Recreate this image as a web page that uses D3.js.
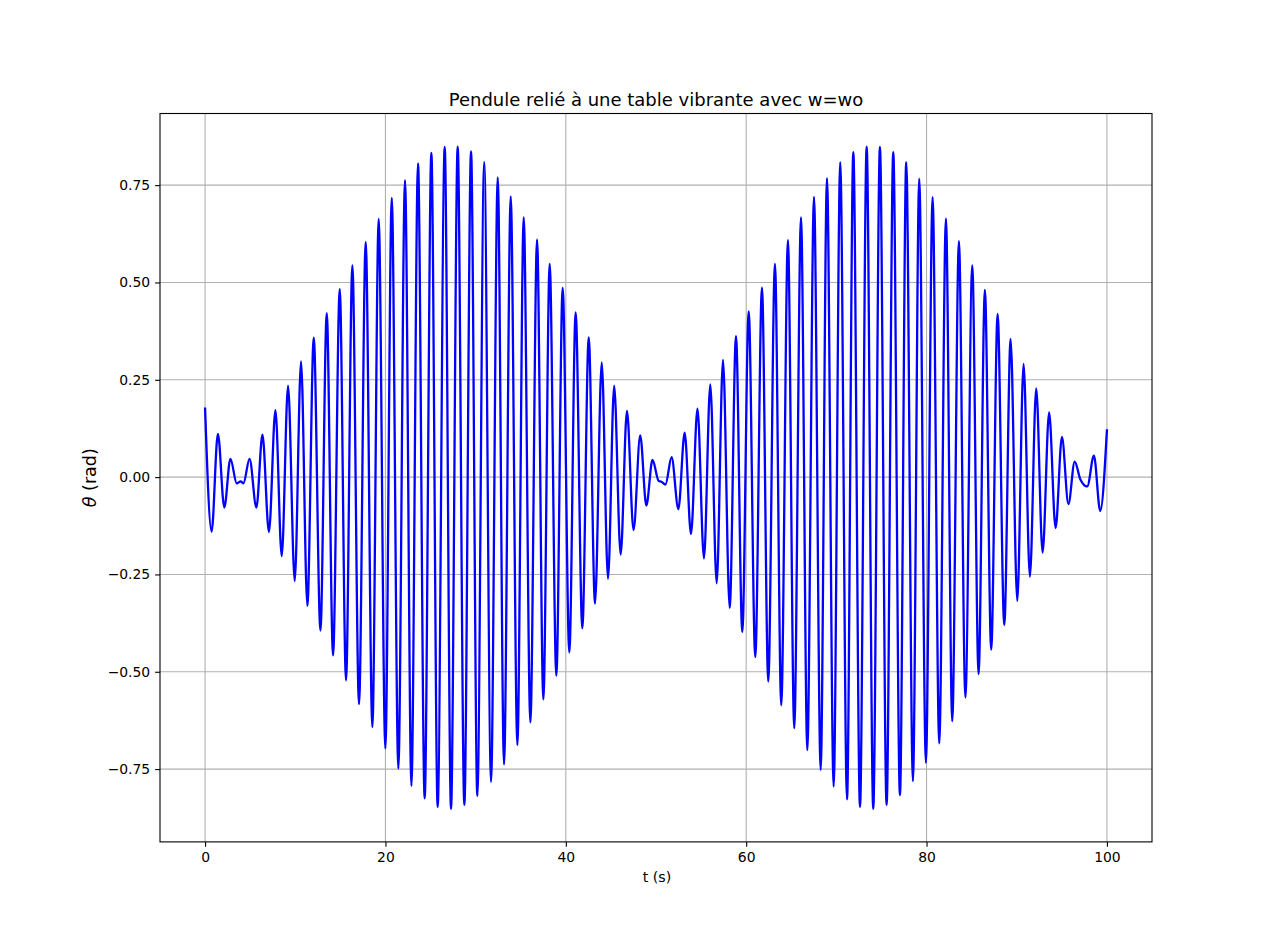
<!DOCTYPE html>
<html><head><meta charset="utf-8">
<script src="https://cdn.jsdelivr.net/npm/d3@7"></script>
<style>
body{margin:0;background:#fff}
text{font-family:"DejaVu Sans","Liberation Sans",sans-serif;fill:#000}
</style>
</head><body>
<svg id="chart" width="1280" height="946"></svg>
<script>
// Time of each extremum / key point of the curve (s)
const times = [
  0.00, 0.72, 1.42, 2.13, 2.81, 3.51, 3.95, 4.25, 4.93, 5.69,
  6.36, 7.08, 7.80, 8.50, 9.20, 9.94, 10.64, 11.34, 12.05, 12.79,
  13.49, 14.19, 14.93, 15.63, 16.33, 17.07, 17.81, 18.55, 19.25, 19.99,
  20.70, 21.43, 22.17, 22.88, 23.61, 24.35, 25.09, 25.79, 26.57, 27.27,
  28.01, 28.75, 29.49, 30.19, 30.95, 31.71, 32.45, 33.15, 33.89, 34.63,
  35.33, 36.07, 36.81, 37.51, 38.21, 38.95, 39.65, 40.39, 41.09, 41.83,
  42.54, 43.24, 43.98, 44.68, 45.36, 46.08, 46.78, 47.51, 48.25, 48.93,
  49.61, 50.30, 50.60, 51.05, 51.73, 52.48, 53.18, 53.88, 54.60, 55.32,
  56.02, 56.73, 57.43, 58.17, 58.87, 59.57, 60.28, 61.01, 61.75, 62.45,
  63.19, 63.89, 64.63, 65.33, 66.08, 66.78, 67.52, 68.26, 68.96, 69.70,
  70.43, 71.18, 71.88, 72.62, 73.36, 74.09, 74.83, 75.57, 76.31, 77.05,
  77.75, 78.49, 79.19, 79.93, 80.67, 81.41, 82.15, 82.85, 83.59, 84.31,
  85.07, 85.77, 86.47, 87.17, 87.88, 88.62, 89.32, 90.06, 90.76, 91.46,
  92.16, 92.87, 93.59, 94.31, 95.01, 95.73, 96.43, 97.06, 97.82, 98.56,
  99.26, 100.00
];
// Angle theta (rad) at those times
const theta = [
  0.176, -0.140, 0.111, -0.078, 0.047, -0.016, -0.011, -0.016, 0.047, -0.078,
  0.109, -0.141, 0.172, -0.203, 0.235, -0.267, 0.297, -0.331, 0.358, -0.394,
  0.421, -0.458, 0.483, -0.522, 0.544, -0.583, 0.604, -0.642, 0.663, -0.697,
  0.717, -0.749, 0.763, -0.793, 0.806, -0.825, 0.833, -0.847, 0.848, -0.852,
  0.849, -0.842, 0.837, -0.819, 0.810, -0.783, 0.770, -0.738, 0.721, -0.688,
  0.667, -0.630, 0.610, -0.571, 0.548, -0.510, 0.486, -0.450, 0.423, -0.388,
  0.359, -0.325, 0.295, -0.261, 0.235, -0.199, 0.170, -0.136, 0.107, -0.073,
  0.044, -0.010, -0.012, -0.019, 0.051, -0.082, 0.114, -0.146, 0.176, -0.209,
  0.238, -0.273, 0.301, -0.336, 0.362, -0.398, 0.426, -0.462, 0.487, -0.525,
  0.548, -0.586, 0.609, -0.645, 0.667, -0.701, 0.720, -0.752, 0.768, -0.795,
  0.809, -0.828, 0.835, -0.847, 0.849, -0.852, 0.848, -0.842, 0.835, -0.817,
  0.809, -0.781, 0.767, -0.734, 0.719, -0.684, 0.664, -0.627, 0.606, -0.566,
  0.544, -0.506, 0.481, -0.443, 0.419, -0.380, 0.355, -0.318, 0.291, -0.256,
  0.228, -0.194, 0.166, -0.131, 0.103, -0.069, 0.040, -0.006, -0.024, 0.055,
  -0.087, 0.120
];
const xTicks = [0, 20, 40, 60, 80, 100];
const yTicks = [-0.75, -0.50, -0.25, 0.00, 0.25, 0.50, 0.75];
const titleText = "Pendule relié à une table vibrante avec w=wo";
const xLabelText = "t (s)";

(function () {
const W = 1280, H = 946;
const mLeft = 160, mRight = 1152, mTop = 113.5, mBottom = 841.9;

const svg = d3.select("#chart");
svg.append("rect").attr("width", W).attr("height", H).attr("fill", "#fff");

const data = times.map((t, i) => ({t, v: theta[i]}));

const [x0, x1] = d3.extent(times);
const xPad = (x1 - x0) * 0.05;
const [y0, y1] = d3.extent(theta);
const yPad = (y1 - y0) * 0.05;

const x = d3.scaleLinear().domain([x0 - xPad, x1 + xPad]).range([mLeft, mRight]);
const y = d3.scaleLinear().domain([y0 - yPad, y1 + yPad]).range([mBottom, mTop]);

// grid
const grid = svg.append("g");
grid.selectAll("line.gx").data(xTicks).join("line").attr("class", "gx")
  .attr("x1", d => x(d)).attr("x2", d => x(d))
  .attr("y1", mTop).attr("y2", mBottom)
  .attr("stroke", "#b0b0b0").attr("stroke-width", 1.1);
grid.selectAll("line.gy").data(yTicks).join("line").attr("class", "gy")
  .attr("y1", d => y(d)).attr("y2", d => y(d))
  .attr("x1", mLeft).attr("x2", mRight)
  .attr("stroke", "#b0b0b0").attr("stroke-width", 1.1);

// line
const line = d3.line().x(d => x(d.t)).y(d => y(d.v)).curve(d3.curveMonotoneX);
svg.append("path").datum(data)
  .attr("d", line)
  .attr("fill", "none")
  .attr("stroke", "#0000ff")
  .attr("stroke-width", 2.3)
  .attr("stroke-linejoin", "round")
  .attr("stroke-linecap", "square");

// frame
svg.append("rect")
  .attr("x", mLeft).attr("y", mTop)
  .attr("width", mRight - mLeft).attr("height", mBottom - mTop)
  .attr("fill", "none").attr("stroke", "#000").attr("stroke-width", 1.1);

// axes
const xAxis = d3.axisBottom(x).tickValues(xTicks).tickSize(4.9).tickPadding(4.9)
  .tickFormat(d3.format("d"));
const gx = svg.append("g").attr("transform", `translate(0,${mBottom})`).call(xAxis);
gx.select(".domain").remove();
gx.selectAll("line").attr("stroke", "#000").attr("stroke-width", 1.1);
gx.selectAll("text").attr("font-size", "13.9px").attr("font-family", '"DejaVu Sans",sans-serif').attr("fill", "#000");

const yAxis = d3.axisLeft(y).tickValues(yTicks).tickSize(4.9).tickPadding(4.9)
  .tickFormat(d3.format(".2f"));
const gy = svg.append("g").attr("transform", `translate(${mLeft},0)`).call(yAxis);
gy.select(".domain").remove();
gy.selectAll("line").attr("stroke", "#000").attr("stroke-width", 1.1);
gy.selectAll("text").attr("font-size", "13.9px").attr("font-family", '"DejaVu Sans",sans-serif').attr("fill", "#000");

// title
svg.append("text")
  .attr("x", (mLeft + mRight) / 2).attr("y", 105.5)
  .attr("text-anchor", "middle").attr("font-size", "18px")
  .text(titleText);

// x label
svg.append("text")
  .attr("x", (mLeft + mRight) / 2 + 1).attr("y", 882)
  .attr("text-anchor", "middle").attr("font-size", "14.2px")
  .text(xLabelText);

// y label
const yl = svg.append("text")
  .attr("transform", `translate(96,${(mTop + mBottom) / 2}) rotate(-90)`)
  .attr("text-anchor", "middle").attr("font-size", "17.5px");
yl.append("tspan").attr("font-style", "italic").text("θ");
yl.append("tspan").text(" (rad)");
})();
</script>
</body></html>
